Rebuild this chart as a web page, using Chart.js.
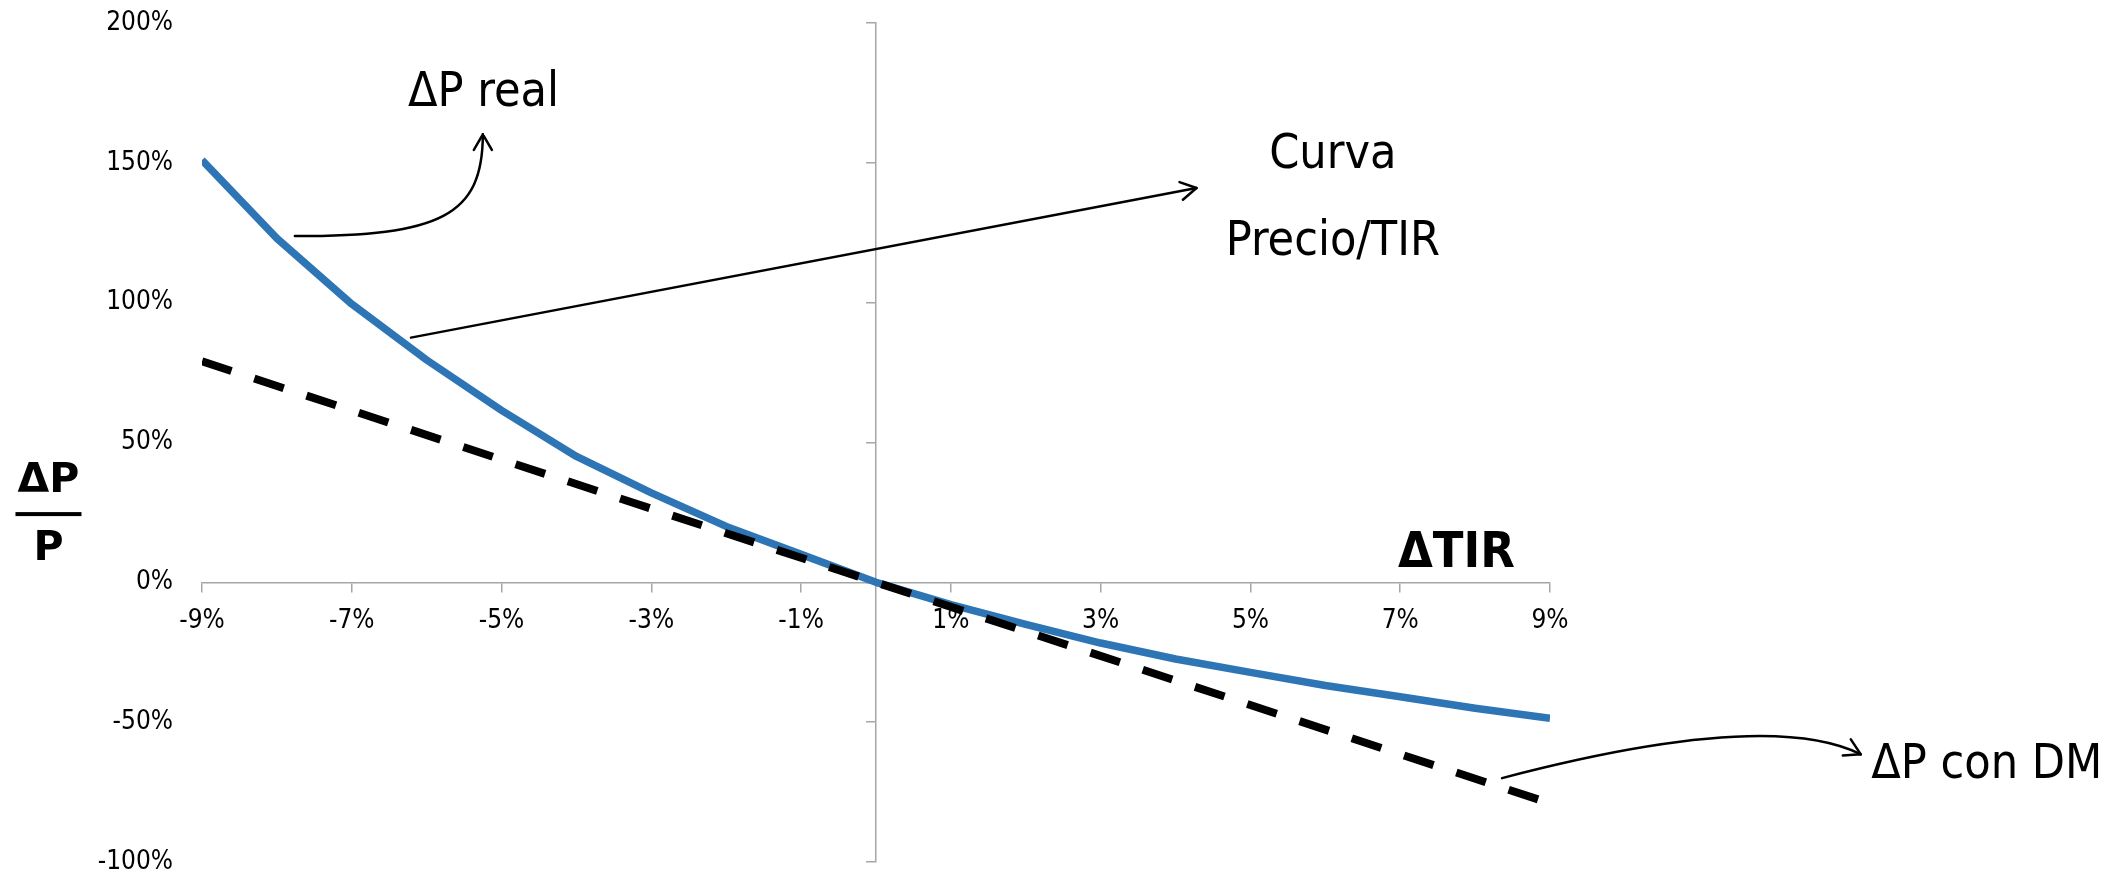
<!DOCTYPE html>
<html>
<head>
<meta charset="utf-8">
<script src="https://cdn.jsdelivr.net/npm/chart.js@4.4.1/dist/chart.umd.min.js"></script>
<style>
  html, body { margin: 0; padding: 0; background: #fff; }
  #caja { width: 2126px; height: 876px; position: relative; }
</style>
</head>
<body>
<div id="caja"><canvas id="grafico"></canvas></div>
<script>
// variación de la TIR (%)
const tir = [-9, -8, -7, -6, -5, -4, -3, -2, -1, 0, 1, 2, 3, 4, 5, 6, 7, 8, 9];
// ΔP/P real (%), curva azul
const precioReal = [151, 123, 99.5, 79.5, 61.5, 45, 32, 20, 10, 0, -8, -15, -21.7, -27.4, -32.2, -36.9, -40.9, -45, -48.6];
// ΔP/P con duración modificada (recta discontinua)
const tirDM = [-9, 9];
const precioDM = [79, -79];
// marcas de los ejes
const ticksX = [-9, -7, -5, -3, -1, 1, 3, 5, 7, 9];
const ticksY = [-100, -50, 0, 50, 100, 150, 200];

const GRIS = '#a6a6a6';
const FUENTE = "'DejaVu Sans Condensed', 'DejaVu Sans', sans-serif";

// textos y flechas, en unidades de los ejes
const notas = [
  { texto: 'ΔP real', x: -6.25, y: 170.5, align: 'left' },
  { texto: 'Curva', x: 6.1, y: 148, align: 'center' },
  { texto: 'Precio/TIR', x: 6.1, y: 117, align: 'center' },
  { texto: 'ΔP con DM', x: 13.29, y: -70, align: 'left' }
];
const flechas = [
  [[-7.76, 123.8], [-5.82, 123.8], [-5.25, 131], [-5.25, 160.2]],
  [[-6.21, 87.5], [4.28, 141]],
  [[8.36, -70], [10.34, -56.1], [12.21, -49], [13.15, -61.5]]
];

const anotaciones = {
  id: 'anotaciones',
  afterDraw(chart) {
    const { ctx } = chart;
    const sx = chart.scales.x, sy = chart.scales.y;
    const px = v => sx.getPixelForValue(v);
    const py = v => sy.getPixelForValue(v);
    ctx.save();
    ctx.fillStyle = '#000';
    ctx.strokeStyle = '#000';
    ctx.textBaseline = 'alphabetic';

    ctx.font = '48px ' + FUENTE;
    notas.forEach(n => {
      ctx.textAlign = n.align;
      ctx.fillText(n.texto, px(n.x), py(n.y));
    });

    // ΔTIR junto al eje x
    ctx.font = 'bold 50px ' + FUENTE;
    ctx.textAlign = 'left';
    ctx.fillText('ΔTIR', px(6.97), py(5.5));

    // ΔP / P a la izquierda
    const cx = px(-11.05);
    ctx.font = "bold 41px 'DejaVu Sans', sans-serif";
    ctx.textAlign = 'center';
    ctx.fillText('ΔP', cx, py(32.3));
    ctx.fillText('P', cx, py(8));
    ctx.fillRect(cx - 33, py(24.4) - 2, 66, 4);

    // flechas
    ctx.lineWidth = 2.5;
    ctx.lineCap = 'round';
    flechas.forEach(f => {
      const p = f.map(([a, b]) => [px(a), py(b)]);
      ctx.beginPath();
      ctx.moveTo(p[0][0], p[0][1]);
      if (p.length === 4) {
        ctx.bezierCurveTo(p[1][0], p[1][1], p[2][0], p[2][1], p[3][0], p[3][1]);
      } else {
        ctx.lineTo(p[1][0], p[1][1]);
      }
      ctx.stroke();
      const fin = p[p.length - 1], ant = p[p.length - 2];
      const ang = Math.atan2(fin[1] - ant[1], fin[0] - ant[0]);
      ctx.beginPath();
      [-1, 1].forEach(s => {
        const a = ang + Math.PI + s * Math.PI / 6;
        ctx.moveTo(fin[0], fin[1]);
        ctx.lineTo(fin[0] + 18 * Math.cos(a), fin[1] + 18 * Math.sin(a));
      });
      ctx.stroke();
    });
    ctx.restore();
  }
};

const grafico = new Chart(document.getElementById('grafico'), {
  type: 'line',
  data: {
    datasets: [
      {
        label: 'ΔP con DM',
        data: tirDM.map((v, i) => ({ x: v, y: precioDM[i] })),
        borderColor: '#000',
        borderWidth: 8,
        borderDash: [31, 24],
        borderCapStyle: 'butt',
        pointRadius: 0,
        order: 0
      },
      {
        label: 'ΔP real',
        data: tir.map((v, i) => ({ x: v, y: precioReal[i] })),
        borderColor: '#2e75b6',
        borderWidth: 7.5,
        borderCapStyle: 'butt',
        borderJoinStyle: 'round',
        pointRadius: 0,
        tension: 0,
        order: 1
      }
    ]
  },
  options: {
    responsive: true,
    maintainAspectRatio: false,
    animation: false,
    layout: { padding: { top: 23, right: 576, bottom: 14, left: 0 } },
    plugins: { legend: { display: false }, tooltip: { enabled: false } },
    scales: {
      x: {
        type: 'linear',
        axis: 'x',
        min: -9,
        max: 9,
        position: { y: 0 },
        afterBuildTicks: s => { s.ticks = ticksX.map(v => ({ value: v })); },
        afterFit: s => { s.height = 0; s.paddingLeft = 0; s.paddingRight = 0; },
        border: { color: GRIS, width: 1.5 },
        grid: { drawOnChartArea: false, color: GRIS, lineWidth: 1.5, tickLength: 9 },
        ticks: {
          autoSkip: false,
          maxRotation: 0,
          padding: 17,
          color: '#000',
          font: { family: FUENTE, size: 26, lineHeight: 1 },
          callback: v => v + '%'
        }
      },
      y: {
        type: 'linear',
        axis: 'y',
        min: -100,
        max: 200,
        position: 'left',
        afterBuildTicks: s => { s.ticks = ticksY.map(v => ({ value: v })); },
        afterFit: s => { s.width = 202; s.paddingTop = 0; s.paddingBottom = 0; },
        border: { display: false },
        grid: { display: false },
        ticks: {
          padding: 21,
          color: '#000',
          font: { family: FUENTE, size: 26, lineHeight: 1 },
          callback: v => v + '%'
        }
      },
      ejeY: {
        type: 'linear',
        axis: 'y',
        min: -100,
        max: 200,
        position: { x: 0 },
        afterBuildTicks: s => { s.ticks = ticksY.map(v => ({ value: v })); },
        afterFit: s => { s.width = 0; s.paddingTop = 0; s.paddingBottom = 0; },
        border: { color: GRIS, width: 1.5 },
        grid: { drawOnChartArea: false, color: GRIS, lineWidth: 1.5, tickLength: 9 },
        ticks: { display: false }
      }
    }
  },
  plugins: [anotaciones]
});
</script>
</body>
</html>
